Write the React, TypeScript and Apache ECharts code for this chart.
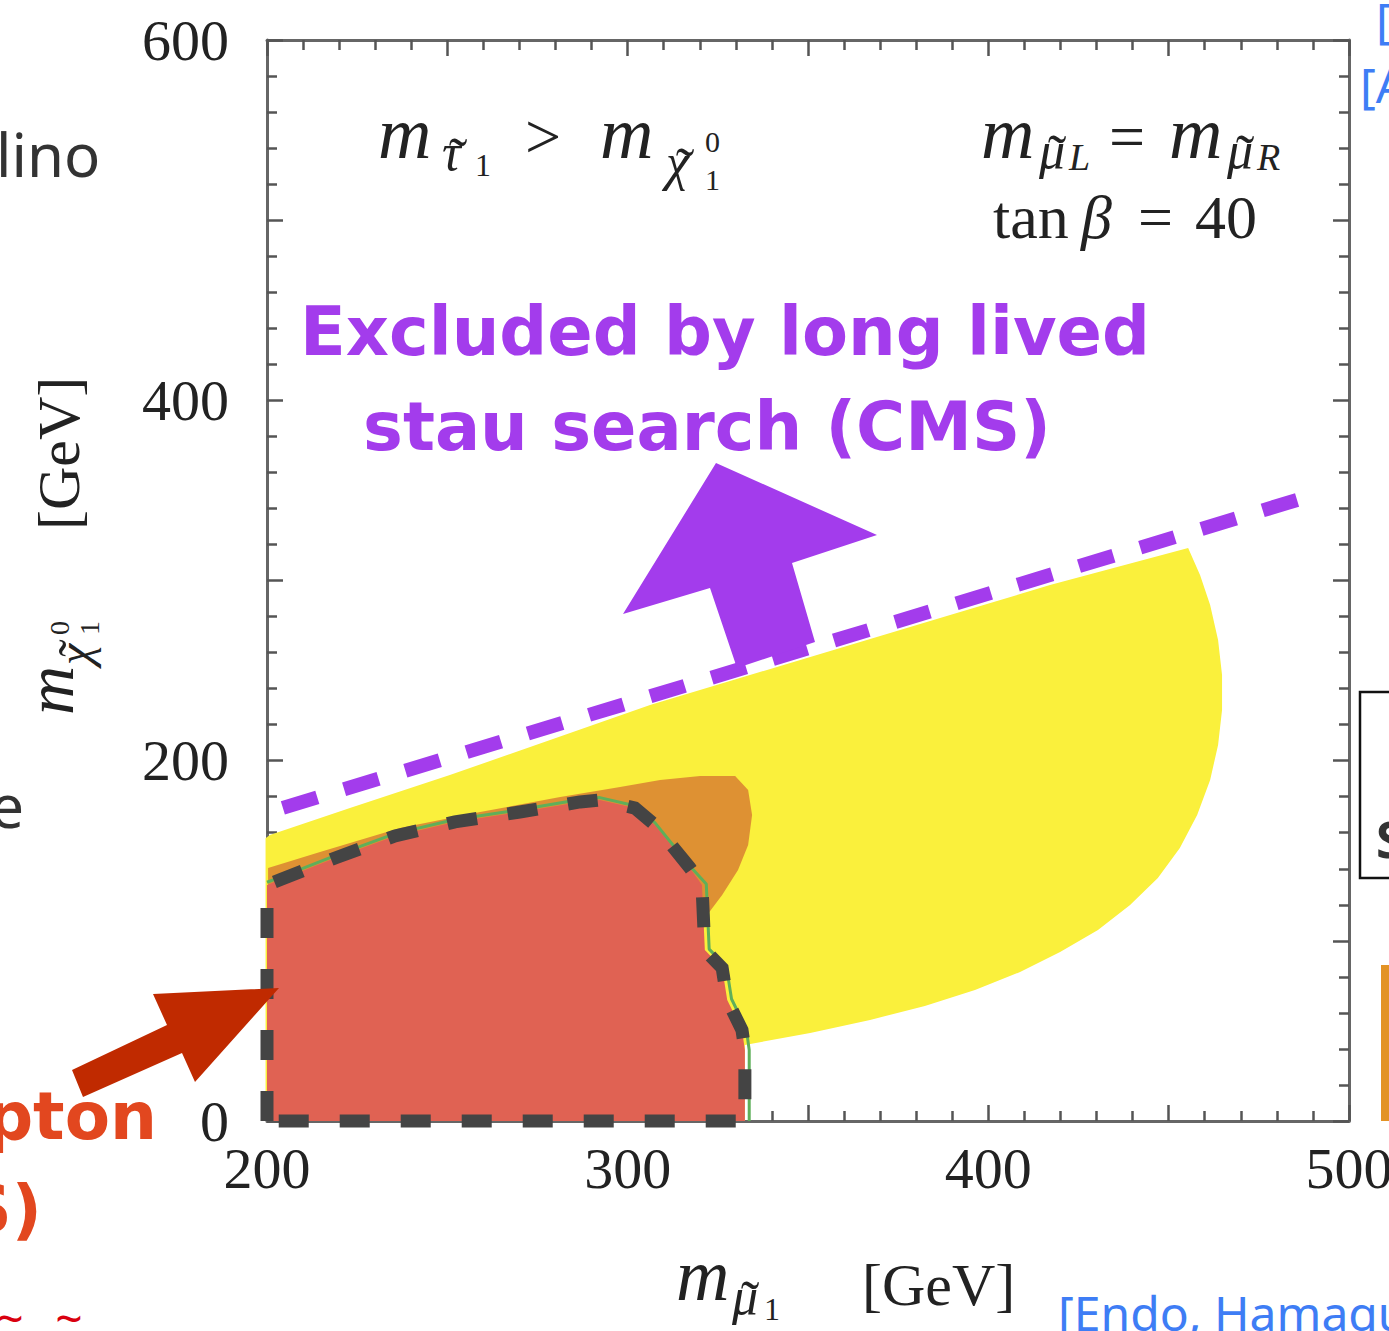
import React, { useEffect, useRef } from "react";
import * as echarts from "echarts";

// ---------- data (GeV) ----------
const xTickLabels = [200, 300, 400, 500];
const yTickLabels = [0, 200, 400, 600];

// yellow allowed region [m_mu1, m_chi]
const yellowRegion: [number, number][] = [
  [199.6, 0], [199.6, 157], [200.8, 158.7], [223.0, 173.7], [250.7, 192.0],
  [278.5, 211.5], [306.2, 230.9], [333.9, 247.5], [361.7, 264.2], [389.4, 280.8],
  [417.1, 297.5], [455.4, 318.0], [458.7, 303.0], [461.5, 286.4], [463.7, 267.0],
  [464.8, 247.5], [464.8, 228.1], [463.7, 208.7], [461.5, 189.3], [457.9, 169.8],
  [453.1, 151.5], [447.0, 134.9], [439.3, 119.9], [430.4, 106.0], [419.9, 93.8],
  [408.8, 82.7], [396.3, 72.7], [382.4, 63.8], [367.2, 56.1], [350.6, 48.8],
  [332.5, 42.2], [332.5, 0],
];

// orange region
const orangeRegion: [number, number][] = [
  [200.3, 140.4], [214.7, 149.3], [236.9, 162.6], [259.1, 171.5], [281.3, 179.8],
  [297.9, 185.4], [309.0, 189.3], [320.1, 191.5], [329.8, 191.5], [333.4, 183.7],
  [334.5, 169.8], [333.4, 153.2], [330.6, 139.3], [326.2, 125.4], [321.4, 112.7],
  [317.3, 67.2], [200.3, 67.2],
];

// red region (excluded by multi-lepton search)
const redRegion: [number, number][] = [
  [200, 0], [200, 131], [203.6, 133.9], [218.9, 146.0], [235.5, 158.2],
  [252.1, 166.0], [270.1, 171.5], [286.8, 177.1], [292.3, 178.2], [302.0, 173.7],
  [307.6, 164.3], [317.3, 140.4], [320.6, 131.0], [321.4, 94.9], [326.2, 84.9],
  [327.6, 67.2], [331.7, 50.5], [332.5, 39.4], [332.5, 0],
];

// green contour along the red edge
const greenEdge: [number, number][] = [
  [200, 132.5], [203.6, 135.2], [218.9, 147.3], [235.5, 159.5], [252.1, 167.3],
  [270.1, 172.8], [286.8, 178.4], [292.3, 179.5], [302.0, 175.0], [307.6, 165.5],
  [317.3, 141.4], [321.8, 131.5], [322.6, 95.4], [327.4, 85.4], [328.8, 67.7],
  [332.9, 51.0], [333.7, 39.4], [333.7, 0],
];

// long-lived stau search line (CMS)
const cmsLine: [number, number][] = [
  [204.4, 173.8], [485.6, 344.7],
];

export default function App() {
  const ref = useRef<HTMLDivElement>(null);

  useEffect(() => {
    document.body.style.margin = "0";
    const chart = echarts.init(ref.current!, null, { renderer: "svg" });

    const SERIF = "Liberation Serif";
    const kFor = (fam: string) =>
      fam === "Liberation Serif" ? 0.3375 : fam === "Noto Sans" ? 0.388 : 0.346;

    const t = (
      text: string,
      x: number,
      baseline: number,
      size: number,
      o: any = {}
    ) => {
      const fam = o.family || SERIF;
      return {
        type: "text",
        x,
        y: baseline - kFor(fam) * size,
        silent: true,
        z: 100,
        style: {
          text,
          fontSize: size,
          fontFamily: fam,
          fontStyle: o.italic ? "italic" : "normal",
          fontWeight: o.weight || "normal",
          fill: o.color || "#222",
          align: o.align || "left",
          verticalAlign: "middle",
        },
      };
    };
    const tilde = (xc: number, b: number, size = 56) => t("˜", xc, b, size, { align: "center" });

    const group = (x: number, y: number, children: any[], rotation = 0) => ({
      type: "group",
      x,
      y,
      rotation,
      children,
    });

    const polySeries = (pts: [number, number][], color: string, z: number) => ({
      type: "custom",
      coordinateSystem: "cartesian2d",
      data: pts,
      encode: { x: 0, y: 1 },
      clip: false,
      silent: true,
      z,
      renderItem: (params: any, api: any) => {
        if (params.dataIndex !== 0) return null;
        return {
          type: "polygon",
          shape: { points: pts.map((p) => api.coord(p)) },
          style: { fill: color },
        };
      },
    });

    const axisCommon = {
      type: "value",
      axisLine: { show: true, onZero: false, lineStyle: { color: "#666", width: 3 } },
      axisTick: { show: true, inside: true, length: 16, lineStyle: { color: "#555", width: 2.5 } },
      minorTick: { show: true, splitNumber: 5, length: 10, lineStyle: { color: "#555", width: 2.5 } },
      splitLine: { show: false },
      minorSplitLine: { show: false },
    };

    const labelStyle = { fontSize: 58, fontFamily: SERIF, color: "#222" };

    const option: any = {
      animation: false,
      backgroundColor: "#fff",
      grid: { left: 267, right: 40, top: 40, bottom: 210, outerBoundsMode: "none" },
      xAxis: [
        {
          ...axisCommon,
          min: 200, max: 500, interval: 50, position: "bottom",
          axisLabel: {
            ...labelStyle, margin: 18,
            formatter: (v: number) => (xTickLabels.includes(v) ? String(v) : ""),
          },
        },
        {
          ...axisCommon,
          min: 200, max: 500, interval: 50, position: "top",
          axisLabel: { show: false },
        },
      ],
      yAxis: [
        {
          ...axisCommon,
          min: 0, max: 600, interval: 100, position: "left",
          axisLabel: {
            ...labelStyle, margin: 38, padding: [0, 0, 6, 0],
            formatter: (v: number) => (yTickLabels.includes(v) ? String(v) : ""),
          },
        },
        {
          ...axisCommon,
          min: 0, max: 600, interval: 100, position: "right",
          axisLabel: { show: false },
        },
      ],
      series: [
        polySeries(yellowRegion, "#FAF03C", 1),
        polySeries(orangeRegion, "#DE9133", 2),
        polySeries(redRegion, "#E06253", 3),
        {
          type: "line", data: greenEdge, symbol: "none", clip: false, silent: true, z: 4,
          lineStyle: { color: "#5FAF5A", width: 3 },
        },
        {
          type: "line", data: [...redRegion, redRegion[0]], symbol: "none", clip: false,
          silent: true, z: 5,
          lineStyle: { color: "#444", width: 13, type: [30, 31], cap: "butt", join: "miter" },
        },
        {
          type: "line", data: cmsLine, symbol: "none", clip: false, silent: true, z: 6,
          lineStyle: { color: "#A33CEC", width: 14, type: [36, 28], cap: "butt" },
        },
      ],
      graphic: [
        // plot annotations
        group(378, 158, [
          t("m", 0, 0, 74, { italic: true }),
          t("τ", 64, 12, 52, { italic: true }),
          tilde(80, 19),
          t("1", 97, 18, 32),
          t(">", 147, 0, 64),
          t("m", 222, 0, 74, { italic: true }),
          t("χ", 288, 22, 52, { italic: true }),
          tilde(307, 29),
          t("0", 327, -6, 30),
          t("1", 327, 32, 30),
        ]),
        group(981, 158, [
          t("m", 0, 0, 74, { italic: true }),
          t("μ", 58, 10, 52, { italic: true }),
          tilde(76, 16),
          t("L", 88, 12, 38, { italic: true }),
          t("=", 128, 0, 64),
          t("m", 188, 0, 74, { italic: true }),
          t("μ", 246, 10, 52, { italic: true }),
          tilde(264, 16),
          t("R", 276, 12, 38, { italic: true }),
        ]),
        group(993, 238, [
          t("tan", 0, 0, 62),
          t("β", 88, 0, 62, { italic: true }),
          t("=", 145, 0, 62),
          t("40", 202, 0, 62),
        ]),
        // axis titles
        group(676, 1300, [
          t("m", 0, 0, 74, { italic: true }),
          t("μ", 56, 14, 52, { italic: true }),
          tilde(74, 20),
          t("1", 88, 20, 32),
          t("[GeV]", 186, 5, 60),
        ]),
        group(73, 715, [
          t("m", 0, 0, 68, { italic: true }),
          t("χ", 50, 18, 48, { italic: true }),
          tilde(67, 22, 52),
          t("0", 80, -4, 28),
          t("1", 80, 26, 28),
          t("[GeV]", 185, 6, 60),
        ], Math.PI / 2),
        // CMS long-lived stau annotation
        t("Excluded by long lived", 300, 355, 67, { family: "DejaVu Sans", weight: "bold", color: "#A33CEC" }),
        t("stau search (CMS)", 363, 450, 67, { family: "DejaVu Sans", weight: "bold", color: "#A33CEC" }),
        {
          type: "polygon", silent: true, z: 90,
          shape: { points: [[716, 463], [623, 614], [710, 588], [737, 668], [815, 642], [792, 563], [877, 535]] },
          style: { fill: "#A33CEC" },
        },
        {
          type: "polygon", silent: true, z: 90,
          shape: { points: [[279, 988], [195, 1082], [182, 1053], [83, 1097], [72, 1070], [167, 1025], [153, 994]] },
          style: { fill: "#C02A00" },
        },
        // slide fragments around the figure
        t("lino", -4, 177, 60, { family: "Noto Sans", color: "#333" }),
        t("e", 24, 828, 60, { family: "Noto Sans", color: "#333", align: "right" }),
        t("pton", 157, 1139, 66, { family: "DejaVu Sans", weight: "bold", color: "#E2471F", align: "right" }),
        t("S)", 42, 1232, 66, { family: "DejaVu Sans", weight: "bold", color: "#E2471F", align: "right" }),
        t("~", 10, 1336, 48, { family: "Noto Sans", color: "#D9000F", align: "center" }),
        t("~", 69, 1336, 48, { family: "Noto Sans", color: "#D9000F", align: "center" }),
        t("[Endo, Hamaguchi", 1058, 1331, 48, { family: "Noto Sans", color: "#3E7DF5" }),
        t("[", 1376, 38, 48, { family: "Noto Sans", color: "#3E7DF5" }),
        t("[A", 1360, 103, 48, { family: "Noto Sans", color: "#3E7DF5" }),
        {
          type: "rect", silent: true, z: 90,
          shape: { x: 1360, y: 692, width: 60, height: 186 },
          style: { fill: "none", stroke: "#111", lineWidth: 2.5 },
        },
        t("S", 1376, 858, 50, { family: "Noto Sans", weight: "bold", color: "#333" }),
        {
          type: "rect", silent: true, z: 90,
          shape: { x: 1381, y: 965, width: 20, height: 156 },
          style: { fill: "#E39325" },
        },
      ],
    };

    chart.setOption(option);
    return () => chart.dispose();
  }, []);

  return <div ref={ref} style={{ width: 1389, height: 1331 }} />;
}
